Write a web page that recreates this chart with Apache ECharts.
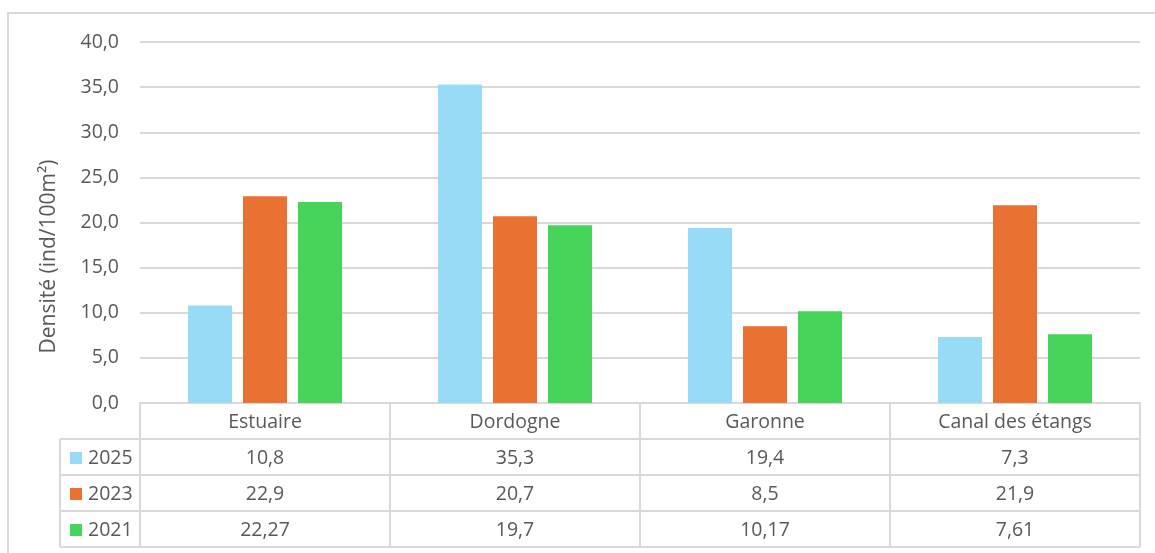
<!DOCTYPE html>
<html>
<head>
<meta charset="utf-8">
<script src="https://cdn.jsdelivr.net/npm/echarts@6/dist/echarts.min.js"></script>
<style>
  html, body { margin: 0; padding: 0; background: #fff; }
  #chart { width: 1155px; height: 553px; }
</style>
</head>
<body>
<div id="chart"></div>
<script>
// Sites sampled and density (individuals per 100 m²) per survey year
const sites = ['Estuaire', 'Dordogne', 'Garonne', 'Canal des étangs'];
const years = ['2025', '2023', '2021'];
const values2025 = [10.8, 35.3, 19.4, 7.3];
const values2023 = [22.9, 20.7, 8.5, 21.9];
const values2021 = [22.27, 19.7, 10.17, 7.61];
const yearColors = ['#97DBF7', '#E97132', '#47D45A'];
const yTicks = [0, 5, 10, 15, 20, 25, 30, 35, 40];

const seriesValues = [values2025, values2023, values2021];
const FONT = '"Open Sans", sans-serif';
const FS = 19.5;
const TEXT = '#595959';
const LINE = '#d9d9d9';

const chart = echarts.init(document.getElementById('chart'), null, { renderer: 'canvas' });

const fmtComma = v => String(v).replace('.', ',');

chart.setOption({
  animation: false,
  textStyle: { fontFamily: FONT },
  grid: { left: 140, right: 15, top: 42, bottom: 150 },
  xAxis: {
    type: 'category',
    data: sites,
    axisLine: { show: true, lineStyle: { color: LINE, width: 2 } },
    axisTick: { show: false },
    axisLabel: { color: TEXT, fontSize: FS, fontFamily: FONT, margin: 8, lineHeight: 22 }
  },
  yAxis: {
    type: 'value',
    min: yTicks[0],
    max: yTicks[yTicks.length - 1],
    interval: 5,
    name: 'Densité (ind/100m²)',
    nameLocation: 'middle',
    nameGap: 80,
    nameTextStyle: { color: TEXT, fontSize: 21, fontFamily: FONT, padding: [0, 0, 0, -68] },
    axisLine: { show: false },
    axisTick: { show: false },
    axisLabel: {
      color: TEXT, fontSize: FS, fontFamily: FONT, margin: 21,
      formatter: v => v.toFixed(1).replace('.', ',')
    },
    splitLine: { lineStyle: { color: LINE, width: 2 } }
  },
  series: years.map((y, i) => ({
    name: y,
    type: 'bar',
    data: seriesValues[i],
    barWidth: 44,
    barGap: '25%',
    itemStyle: { color: yearColors[i] }
  }))
});

// Data table under the plot, aligned on the category axis
function drawTable() {
  const left = 140, right = 1140, legendLeft = 60;
  const rowTops = [404, 439, 475, 511, 547];
  const colEdges = [left];
  const step = (right - left) / sites.length;
  for (let i = 1; i <= sites.length; i++) colEdges.push(left + step * i);

  const g = [];
  const lineStyle = { stroke: LINE, lineWidth: 2 };
  // outer frame of the chart area
  g.push({ type: 'rect', shape: { x: 8, y: 13, width: 1170, height: 560 },
           style: { fill: null, stroke: LINE, lineWidth: 2 }, z: 0, silent: true });
  // horizontal rules
  for (let r = 1; r < rowTops.length; r++) {
    g.push({ type: 'line', shape: { x1: legendLeft, y1: rowTops[r], x2: right, y2: rowTops[r] }, style: lineStyle });
  }
  // vertical rules
  g.push({ type: 'line', shape: { x1: legendLeft, y1: rowTops[1], x2: legendLeft, y2: rowTops[4] }, style: lineStyle });
  colEdges.forEach(x => {
    g.push({ type: 'line', shape: { x1: x, y1: rowTops[0], x2: x, y2: rowTops[4] }, style: lineStyle });
  });
  // rows: legend key + values
  years.forEach((y, r) => {
    const top = rowTops[r + 1], bottom = rowTops[r + 2];
    const cy = (top + bottom) / 2 + 1;
    g.push({ type: 'rect', shape: { x: 70, y: cy - 6, width: 12, height: 12 }, style: { fill: yearColors[r] } });
    g.push({ type: 'text', x: 88, y: cy, style: { text: y, fill: TEXT, font: FS + 'px ' + FONT, verticalAlign: 'middle', align: 'left' } });
    seriesValues[r].forEach((v, c) => {
      const cx = chart.convertToPixel({ xAxisIndex: 0 }, sites[c]);
      g.push({ type: 'text', x: cx, y: cy, style: { text: fmtComma(v), fill: TEXT, font: FS + 'px ' + FONT, verticalAlign: 'middle', align: 'center' } });
    });
  });
  chart.setOption({ graphic: g });
}
drawTable();
</script>
</body>
</html>
